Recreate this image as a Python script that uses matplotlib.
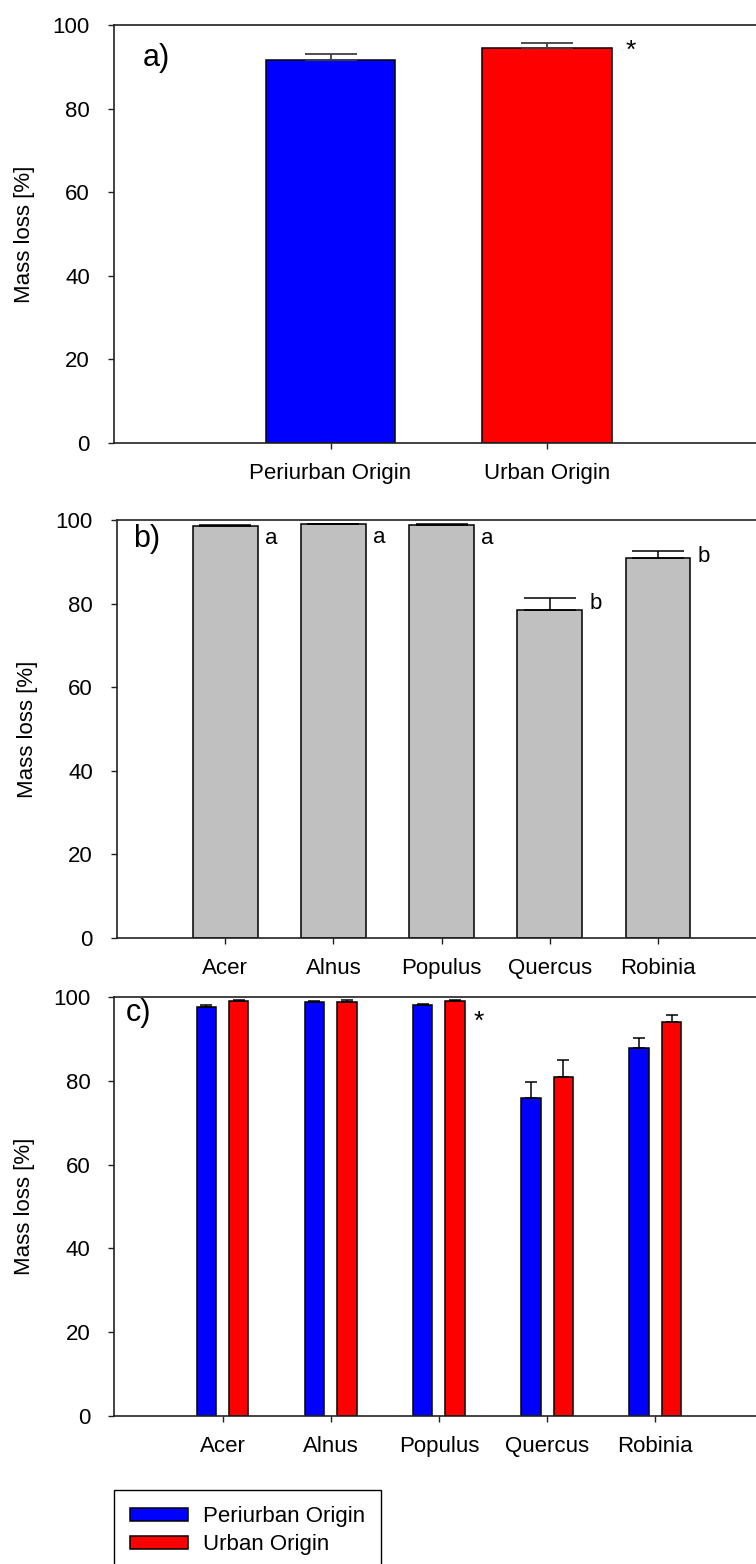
import numpy as np
import matplotlib
matplotlib.use("Agg")
import matplotlib.pyplot as plt
from matplotlib.patches import Patch

plt.rcParams['font.family'] = ['Liberation Sans', 'DejaVu Sans']

# ---------------- data ----------------
origins = ["Periurban Origin", "Urban Origin"]
origin_mean = [91.6, 94.6]
origin_err = [1.5, 1.1]

species = ["Acer", "Alnus", "Populus", "Quercus", "Robinia"]
species_mean = [98.6, 99.0, 98.8, 78.5, 91.0]
species_err = [0.3, 0.15, 0.15, 2.9, 1.6]
species_letters = ["a", "a", "a", "b", "b"]

peri_mean = [97.6, 98.8, 98.1, 75.9, 87.9]
peri_err = [0.6, 0.15, 0.3, 3.9, 2.2]
urban_mean = [99.1, 98.7, 99.1, 81.0, 94.0]
urban_err = [0.2, 0.5, 0.2, 4.0, 1.7]

yticks = [0, 20, 40, 60, 80, 100]
ylabel = "Mass loss [%]"

BLUE = "#0000FF"
RED = "#FF0000"
GREY = "#C0C0C0"
FS = 16

W, H = 756, 1564
fig = plt.figure(figsize=(W / 100, H / 100), dpi=100)


def make_ax(left_px, top_px, bottom_px, width_px):
    ax = fig.add_axes([left_px / W, 1 - bottom_px / H, width_px / W, (bottom_px - top_px) / H])
    ax.set_ylim(0, 100)
    ax.set_yticks(yticks)
    ax.spines['right'].set_visible(False)
    for s in ['left', 'bottom', 'top']:
        ax.spines[s].set_linewidth(1.2)
        ax.spines[s].set_color('#222222')
    ax.tick_params(axis='both', direction='out', length=4.3, width=1.0,
                   color='#222222', labelsize=FS)
    ax.tick_params(axis='y', pad=13)
    ax.tick_params(axis='x', pad=10)
    ax.set_ylabel(ylabel, fontsize=FS, labelpad=13)
    return ax


# ---------------- panel a ----------------
axa = make_ax(114, 25, 443, 649.5)
xa = np.arange(1, len(origins) + 1)
axa.bar(xa, origin_mean, width=0.6, color=[BLUE, RED], edgecolor='black',
        linewidth=1.1, zorder=2)
axa.errorbar(xa, origin_mean, yerr=[np.zeros(len(xa)), origin_err], fmt='none',
             ecolor='#404040', elinewidth=1.3, capsize=19, capthick=1.3, zorder=3)
axa.set_xlim(0, 3)
axa.set_xticks(xa)
axa.set_xticklabels(origins)
axa.text(2.388, origin_mean[1] + origin_err[1] - 3.6, "*", ha='center', va='baseline',
         fontsize=19)
axa.text(0.045, 0.922, "a)", transform=axa.transAxes, fontsize=22, ha='left', va='center')

# ---------------- panel b ----------------
axb = make_ax(117, 520, 938, 649.2)
xb = np.arange(1, len(species) + 1)
axb.bar(xb, species_mean, width=0.6, color=GREY, edgecolor='black', linewidth=1.1, zorder=2)
axb.errorbar(xb, species_mean, yerr=[np.zeros(len(xb)), species_err], fmt='none',
             ecolor='black', elinewidth=1.1, capsize=18.4, capthick=1.1, zorder=3)
axb.set_xlim(0, 6)
axb.set_xticks(xb)
axb.set_xticklabels(species)
for x, m, e, let in zip(xb, species_mean, species_err, species_letters):
    off = 4.7 if let == "a" else 2.6
    axb.text(x + 0.3 + 0.065, m + e - off, let, ha='left', va='baseline', fontsize=FS)
axb.text(0.025, 0.955, "b)", transform=axb.transAxes, fontsize=22, ha='left', va='center')

# ---------------- panel c ----------------
axc = make_ax(114.3, 997, 1416, 649.2)
xc = np.arange(1, len(species) + 1)
bw = 0.18
axc.bar(xc - 0.15, peri_mean, width=bw, color=BLUE, edgecolor='black', linewidth=1.1, zorder=2)
axc.bar(xc + 0.15, urban_mean, width=bw, color=RED, edgecolor='black', linewidth=1.1, zorder=2)
axc.errorbar(xc - 0.15, peri_mean, yerr=[np.zeros(len(xc)), peri_err], fmt='none',
             ecolor='black', elinewidth=1.1, capsize=4.3, capthick=1.1, zorder=3)
axc.errorbar(xc + 0.15, urban_mean, yerr=[np.zeros(len(xc)), urban_err], fmt='none',
             ecolor='black', elinewidth=1.1, capsize=4.3, capthick=1.1, zorder=3)
axc.set_xlim(0, 6)
axc.set_xticks(xc)
axc.set_xticklabels(species)
axc.text(3.369, urban_mean[2] + urban_err[2] - 6.9, "*", ha='center', va='baseline', fontsize=19)
axc.text(0.017, 0.962, "c)", transform=axc.transAxes, fontsize=22, ha='left', va='center')

# ---------------- legend ----------------
handles = [Patch(facecolor=BLUE, edgecolor='black', linewidth=1.1, label=origins[0]),
           Patch(facecolor=RED, edgecolor='black', linewidth=1.1, label=origins[1])]
leg = fig.legend(handles=handles, loc='upper left',
                 bbox_to_anchor=(114 / W, 1 - 1490 / H), bbox_transform=fig.transFigure,
                 borderaxespad=0, fontsize=FS, frameon=True, fancybox=False,
                 handlelength=2.6, handleheight=0.54, borderpad=0.72,
                 handletextpad=0.69, labelspacing=0.32)
leg.get_frame().set_edgecolor('black')
leg.get_frame().set_linewidth(1.0)
leg.get_frame().set_alpha(1)

fig.savefig("out.png", dpi=100)
